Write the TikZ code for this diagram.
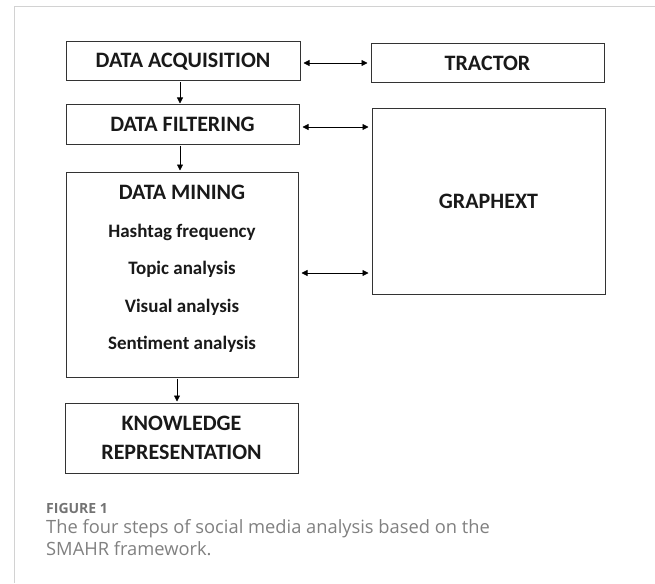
\documentclass[tikz,border=0pt]{standalone}
\usepackage{fontspec}
\usetikzlibrary{arrows.meta}
\setmainfont{Carlito}
\newfontfamily\capfont{Open Sans}

\definecolor{inkgray}{HTML}{333333}
\definecolor{capgray}{HTML}{808080}

\tikzset{
	stepbox/.style={draw=inkgray, line width=1pt, inner sep=0pt, text=black!90,
		font=\bfseries\fontsize{22}{29}\selectfont, align=center},
	item/.style={text=black!90, font=\bfseries\fontsize{19}{22}\selectfont},
	flow/.style={-{Triangle[length=6pt,width=6pt]}, line width=0.8pt, shorten >=1pt, shorten <=1pt},
	link/.style={{Triangle[length=6pt,width=6pt]}-{Triangle[length=6pt,width=6pt]}, line width=0.8pt, shorten >=3pt, shorten <=3pt}
}

\begin{document}
\begin{tikzpicture}[x=1pt, y=-1pt]

	\useasboundingbox (0,0) rectangle (655,583);
	\draw[gray!35, line width=1pt] (14,583) -- (14,7) -- (655,7);

	% left column
	\node[stepbox, minimum width=234pt, minimum height=39pt] (acq) at (183,61.5) {DATA ACQUISITION};
	\node[stepbox, minimum width=233pt, minimum height=39pt] (filt) at (182.5,124.5) {DATA FILTERING};
	\node[stepbox, minimum width=232pt, minimum height=205pt] (mine) at (182,274.5) {};
	\node[stepbox, draw=none] (minetitle) at (182,192) {DATA MINING};
	\foreach \t [count=\i] in {Hashtag frequency, Topic analysis, Visual analysis, Sentiment analysis}
		\node[item] (task\i) at (182,194.5+37.5*\i) {\t};
	\node[stepbox, minimum width=233pt, minimum height=70pt] (know) at (181.5,438) {KNOWLEDGE\\REPRESENTATION};

	% right column
	\node[stepbox, minimum width=233pt, minimum height=39pt] (tractor) at (487.5,63.5) {TRACTOR};
	\node[stepbox, minimum width=233pt, minimum height=185pt] (graph) at (488.5,201.5) {GRAPHEXT};

	\draw[flow] (acq.south -| 180,0) -- (filt.north -| 180,0);
	\draw[flow] (filt.south -| 180,0) -- (mine.north -| 180,0);
	\draw[flow] (mine.south -| 177,0) -- (know.north -| 177,0);

	\draw[link] (acq.east |- 0,63) -- (tractor.west |- 0,63);
	\draw[link] (filt.east |- 0,127) -- (graph.west |- 0,127);
	\draw[link] (mine.east |- 0,273) -- (graph.west |- 0,273);

	% caption
	\node[anchor=base west, inner sep=0pt, text=capgray!90!black, font=\capfont\bfseries\fontsize{14}{16}\selectfont] (fig) at (46,513) {FIGURE 1};
	\node[anchor=base west, inner sep=0pt, text=capgray, align=left, font=\capfont\fontsize{18.3}{22}\selectfont] (caption) at (46,555)
		{The four steps of social media analysis based on the\\SMAHR framework.};

\end{tikzpicture}
\end{document}
